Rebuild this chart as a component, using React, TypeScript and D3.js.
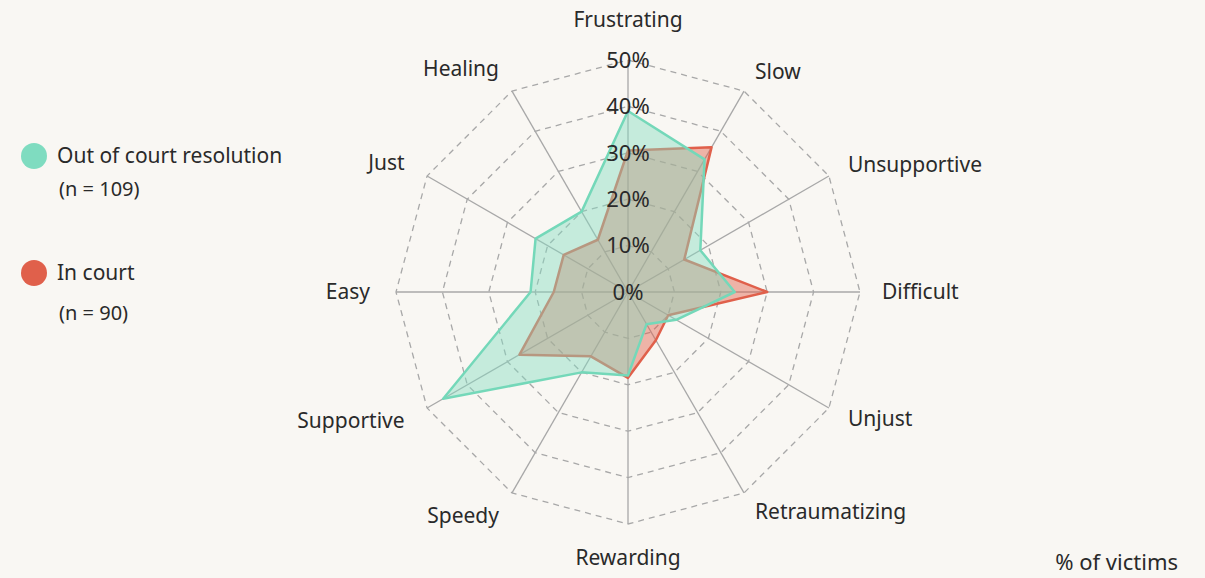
import React, { useEffect, useRef } from "react";
import * as d3 from "d3";

// axis categories, clockwise from the top
const categories = [
  "Frustrating",
  "Slow",
  "Unsupportive",
  "Difficult",
  "Unjust",
  "Retraumatizing",
  "Rewarding",
  "Speedy",
  "Supportive",
  "Easy",
  "Just",
  "Healing",
];

// % of victims
const outOfCourt = [39, 33, 18, 23, 12, 8, 18, 20, 46, 21, 23, 20];
const inCourt = [30.5, 36, 14, 30, 10, 12, 18.5, 16, 27, 16, 16, 13];

const ticks = [0, 10, 20, 30, 40, 50];

const seriesNames = ["Out of court resolution", "In court"];
const seriesCounts = ["(n = 109)", "(n = 90)"];

const App = () => {
  const ref = useRef<SVGSVGElement>(null);

  useEffect(() => {
    document.body.style.margin = "0";
    const width = 1205;
    const height = 578;
    const cx = 628;
    const cy = 292;
    const font = "'Noto Sans', sans-serif";
    const textColor = "#2a2a2a";

    const svg = d3.select(ref.current);
    svg.selectAll("*").remove();
    svg.attr("width", width).attr("height", height);

    svg.append("rect").attr("width", width).attr("height", height).attr("fill", "#f9f7f3");

    const r = d3.scaleLinear().domain([0, 50]).range([0, 232]);
    const angle = d3
      .scaleLinear()
      .domain([0, categories.length])
      .range([0, Math.PI * 2]);

    const g = svg.append("g").attr("transform", `translate(${cx},${cy})`);

    // dashed rings
    const ring = d3
      .lineRadial<string>()
      .angle((_, i) => angle(i))
      .curve(d3.curveLinearClosed);
    ticks.slice(1).forEach((t) => {
      g.append("path")
        .attr("d", ring.radius(r(t))(categories))
        .attr("fill", "none")
        .attr("stroke", "#a8a8a8")
        .attr("stroke-width", 1.3)
        .attr("stroke-dasharray", "6,5");
    });

    // spokes
    categories.forEach((_, i) => {
      const a = angle(i);
      g.append("line")
        .attr("x1", 0)
        .attr("y1", 0)
        .attr("x2", r(50) * Math.sin(a))
        .attr("y2", -r(50) * Math.cos(a))
        .attr("stroke", "#a8a8a8")
        .attr("stroke-width", 1.3);
    });

    const area = d3
      .lineRadial<number>()
      .angle((_, i) => angle(i))
      .radius((d) => r(d))
      .curve(d3.curveLinearClosed);

    // in court underneath, out of court on top
    g.append("path")
      .attr("d", area(inCourt))
      .attr("fill", "#e0604b")
      .attr("fill-opacity", 0.45)
      .attr("stroke", "#e0604b")
      .attr("stroke-width", 2.5)
      .attr("stroke-linejoin", "round");

    g.append("path")
      .attr("d", area(outOfCourt))
      .attr("fill", "#86dcc0")
      .attr("fill-opacity", 0.45)
      .attr("stroke", "#74d8b9")
      .attr("stroke-width", 2.5)
      .attr("stroke-linejoin", "round");

    // tick labels
    ticks.forEach((t) => {
      g.append("text")
        .attr("x", 0)
        .attr("y", -r(t))
        .attr("dy", "0.35em")
        .attr("text-anchor", "middle")
        .attr("font-family", font)
        .attr("font-size", 22)
        .attr("fill", textColor)
        .text(`${t}%`);
    });

    // category labels
    categories.forEach((c, i) => {
      const a = angle(i);
      const s = Math.sin(a);
      const co = Math.cos(a);
      let rad = 258;
      let anchor = "middle";
      if (Math.abs(s) < 0.01) rad = co > 0 ? 272 : 266;
      else if (s > 0) {
        anchor = "start";
        rad = 254;
      } else anchor = "end";
      g.append("text")
        .attr("x", rad * s)
        .attr("y", -rad * co)
        .attr("dy", "0.35em")
        .attr("text-anchor", anchor)
        .attr("font-family", font)
        .attr("font-size", 21)
        .attr("fill", textColor)
        .text(c);
    });

    // legend
    const colors = ["#7fdcc0", "#e0604b"];
    const legendY = [156, 273];
    const countY = [189, 313];
    seriesNames.forEach((name, i) => {
      svg
        .append("circle")
        .attr("cx", 34)
        .attr("cy", legendY[i])
        .attr("r", 13)
        .attr("fill", colors[i]);
      svg
        .append("text")
        .attr("x", 57)
        .attr("y", legendY[i])
        .attr("dy", "0.35em")
        .attr("font-family", font)
        .attr("font-size", 21)
        .attr("fill", textColor)
        .text(name);
      svg
        .append("text")
        .attr("x", 59)
        .attr("y", countY[i])
        .attr("dy", "0.35em")
        .attr("font-family", font)
        .attr("font-size", 20)
        .attr("fill", textColor)
        .text(seriesCounts[i]);
    });

    svg
      .append("text")
      .attr("x", 1178)
      .attr("y", 562)
      .attr("dy", "0.35em")
      .attr("text-anchor", "end")
      .attr("font-family", font)
      .attr("font-size", 22)
      .attr("fill", textColor)
      .text("% of victims");
  }, []);

  return <svg ref={ref} style={{ display: "block" }} />;
};

export default App;
